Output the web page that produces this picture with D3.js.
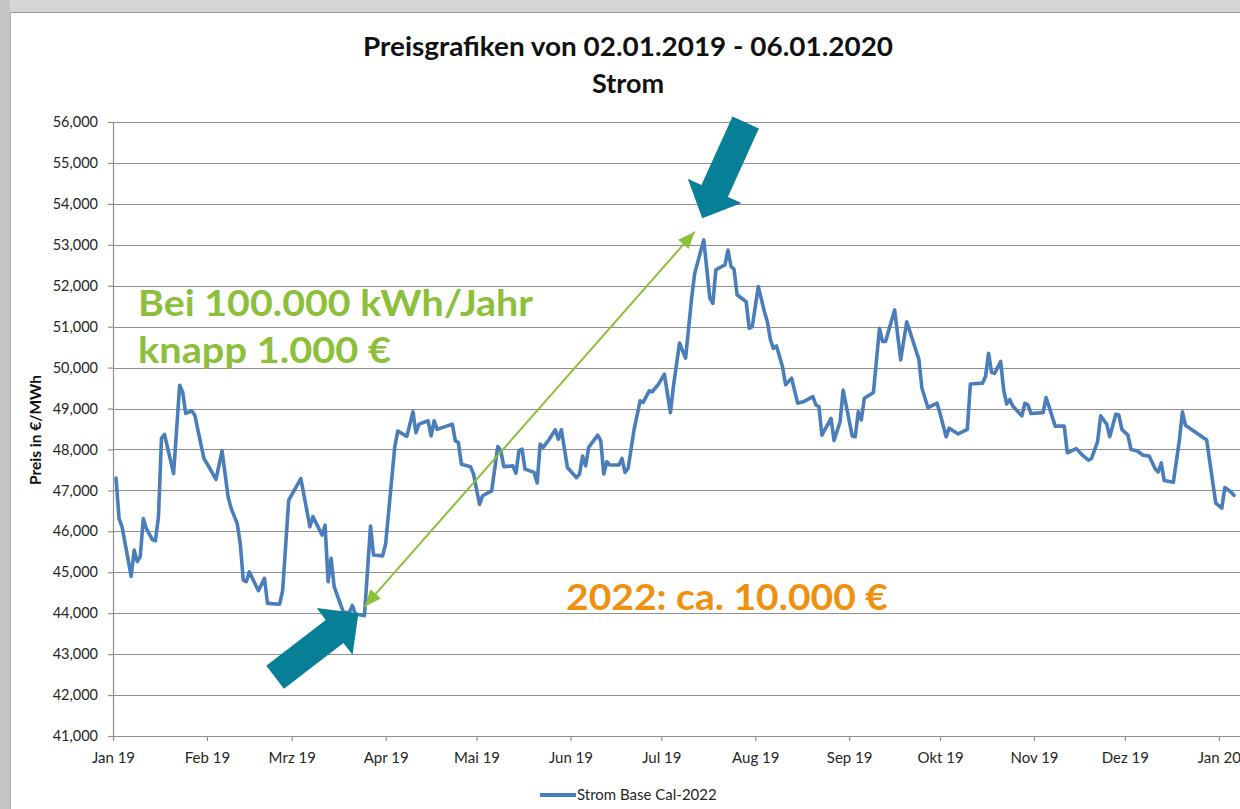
<!DOCTYPE html>
<html><head><meta charset="utf-8">
<script src="https://cdn.jsdelivr.net/npm/d3@7"></script>
<style>html,body{margin:0;padding:0;background:#fff;overflow:hidden}</style>
</head><body><svg id="c" width="1240" height="809"></svg>
<script>
// ---------------- data ----------------
const dates = [
"2019-01-02","2019-01-03","2019-01-04","2019-01-07","2019-01-08","2019-01-09","2019-01-10","2019-01-11","2019-01-12","2019-01-14",
"2019-01-15","2019-01-16","2019-01-17","2019-01-18","2019-01-21","2019-01-23","2019-01-24","2019-01-25","2019-01-27","2019-01-28",
"2019-01-31","2019-02-01","2019-02-04","2019-02-06","2019-02-08","2019-02-09","2019-02-11","2019-02-12","2019-02-13","2019-02-14",
"2019-02-15","2019-02-18","2019-02-20","2019-02-21","2019-02-25","2019-02-26","2019-02-28","2019-03-04","2019-03-07","2019-03-08",
"2019-03-11","2019-03-12","2019-03-13","2019-03-14","2019-03-15","2019-03-18","2019-03-20","2019-03-21","2019-03-22","2019-03-25",
"2019-03-27","2019-03-28","2019-03-31","2019-04-01","2019-04-04","2019-04-05","2019-04-08","2019-04-10","2019-04-11","2019-04-12",
"2019-04-15","2019-04-16","2019-04-17","2019-04-18","2019-04-23","2019-04-24","2019-04-25","2019-04-26","2019-04-29","2019-04-30",
"2019-05-02","2019-05-03","2019-05-06","2019-05-08","2019-05-09","2019-05-10","2019-05-13","2019-05-14","2019-05-15","2019-05-16",
"2019-05-17","2019-05-20","2019-05-21","2019-05-22","2019-05-23","2019-05-25","2019-05-27","2019-05-28","2019-05-29","2019-05-31",
"2019-06-03","2019-06-04","2019-06-05","2019-06-06","2019-06-07","2019-06-10","2019-06-11","2019-06-12","2019-06-13","2019-06-14",
"2019-06-17","2019-06-18","2019-06-19","2019-06-20","2019-06-22","2019-06-24","2019-06-25","2019-06-27","2019-06-28","2019-06-30",
"2019-07-02","2019-07-04","2019-07-05","2019-07-07","2019-07-09","2019-07-11","2019-07-12","2019-07-15","2019-07-17","2019-07-18",
"2019-07-19","2019-07-22","2019-07-23","2019-07-24","2019-07-25","2019-07-26","2019-07-29","2019-07-30","2019-07-31","2019-08-02",
"2019-08-04","2019-08-05","2019-08-06","2019-08-07","2019-08-08","2019-08-10","2019-08-11","2019-08-13","2019-08-15","2019-08-17",
"2019-08-20","2019-08-21","2019-08-22","2019-08-23","2019-08-26","2019-08-27","2019-08-29","2019-08-30","2019-09-02","2019-09-03",
"2019-09-04","2019-09-05","2019-09-06","2019-09-09","2019-09-11","2019-09-12","2019-09-13","2019-09-16","2019-09-18","2019-09-20",
"2019-09-24","2019-09-25","2019-09-27","2019-09-30","2019-10-01","2019-10-03","2019-10-04","2019-10-07","2019-10-10","2019-10-11",
"2019-10-15","2019-10-16","2019-10-17","2019-10-18","2019-10-19","2019-10-21","2019-10-22","2019-10-23","2019-10-24","2019-10-25",
"2019-10-28","2019-10-29","2019-10-30","2019-10-31","2019-11-04","2019-11-05","2019-11-06","2019-11-08","2019-11-11","2019-11-12",
"2019-11-15","2019-11-17","2019-11-19","2019-11-20","2019-11-22","2019-11-23","2019-11-25","2019-11-26","2019-11-28","2019-11-29",
"2019-11-30","2019-12-02","2019-12-03","2019-12-05","2019-12-07","2019-12-09","2019-12-11","2019-12-12","2019-12-13","2019-12-14",
"2019-12-17","2019-12-19","2019-12-20","2019-12-21","2019-12-28","2019-12-31","2020-01-02","2020-01-03","2020-01-05","2020-01-06"
];
const values = [
47300,46310,46110,44900,45540,45260,45380,46310,46070,45800,
45770,46350,48270,48370,47410,49570,49400,48880,48940,48840,
47780,47660,47270,47970,46840,46560,46190,45700,44810,44770,
45010,44550,44850,44240,44220,44560,46760,47290,46110,46360,
45910,46150,44770,45340,44650,44030,44010,44190,43980,43940,
46130,45420,45400,45700,48060,48450,48320,48920,48410,48620,
48700,48330,48700,48490,48620,48210,48170,47640,47580,47400,
46660,46870,46990,48070,47970,47580,47600,47420,47970,48010,
47520,47440,47180,48130,48050,48250,48480,48250,48480,47560,
47310,47400,47840,47600,48050,48350,48210,47400,47700,47620,
47620,47780,47440,47530,48490,49190,49150,49430,49410,49590,
49840,48900,49550,50600,50230,51700,52300,53120,51700,51570,
52390,52510,52870,52470,52400,51780,51610,50960,51000,51980,
51370,51120,50680,50470,50530,50020,49580,49740,49130,49170,
49290,49090,49050,48350,48760,48220,48680,49450,48330,48310,
48920,48720,49250,49390,50960,50640,50640,51410,50190,51120,
50200,49500,49020,49130,48880,48310,48520,48380,48490,49600,
49620,49780,50350,49880,49860,50150,49450,49110,49220,49060,
48820,49130,49090,48880,48900,49270,49040,48570,48570,47920,
48020,47860,47740,47780,48190,48820,48620,48310,48860,48840,
48490,48350,48000,47970,47860,47840,47530,47450,47670,47240,
47200,48230,48920,48590,48230,46690,46570,47070,46960,46880
];
const seriesName = "Strom Base Cal-2022";
const yTickValues = [41000,42000,43000,44000,45000,46000,47000,48000,49000,50000,51000,52000,53000,54000,55000,56000];
const monthTickDates = ["2019-01-01","2019-02-01","2019-03-01","2019-04-01","2019-05-01","2019-06-01","2019-07-01","2019-08-01","2019-09-01","2019-10-01","2019-11-01","2019-12-01","2020-01-01"];
const monthTickLabels = ["Jan 19","Feb 19","Mrz 19","Apr 19","Mai 19","Jun 19","Jul 19","Aug 19","Sep 19","Okt 19","Nov 19","Dez 19","Jan 20"];
const titleLines = ["Preisgrafiken von 02.01.2019 - 06.01.2020","Strom"];
const yAxisTitle = "Preis in €/MWh";
const noteGreen = ["Bei 100.000 kWh/Jahr","knapp 1.000 €"];
const noteOrange = "2022: ca. 10.000 €";
// annotation anchors (data space)
const rangeArrowEnds = [["2019-03-25",44160],["2019-07-12",53320]];
const tealArrowTips = [["2019-07-14T12:00:00Z",53650],["2019-03-23",44000]];

// ---------------- layout ----------------
const W = 1240, H = 809;
const plot = {left:113, top:122, bottom:736, right:1240};
const FONT = "Lato, Carlito, 'Open Sans', sans-serif";
const BLUE = "#4a7ebb", GREEN = "#8cbf3a", ORANGE = "#f0900f", TEAL = "#067f97";

const svg = d3.select("#c");
svg.append("rect").attr("width",W).attr("height",H).attr("fill","#fff");
// window frame
svg.append("rect").attr("x",0).attr("y",0).attr("width",W).attr("height",12).attr("fill","#d6d6d6");
svg.append("rect").attr("x",0).attr("y",0).attr("width",10).attr("height",H).attr("fill","#c4c4c4");
svg.append("line").attr("x1",10).attr("x2",W).attr("y1",12.5).attr("y2",12.5).attr("stroke","#9e9e9e").attr("stroke-width",1);
svg.append("line").attr("x1",10.5).attr("x2",10.5).attr("y1",12).attr("y2",H).attr("stroke","#b0b0b0").attr("stroke-width",1);

const parse = s => new Date(s.length === 10 ? s + "T00:00:00Z" : s);
const data = dates.map((d,i)=>({date:parse(d), value:values[i]}));

const x = d3.scaleUtc().domain([parse("2019-01-01"), parse("2020-01-08")]).range([plot.left, plot.right]);
const y = d3.scaleLinear().domain([41000,56000]).range([plot.bottom, plot.top]);

// gridlines
svg.append("g").selectAll("line").data(yTickValues.slice(1)).join("line")
  .attr("x1",plot.left).attr("x2",plot.right)
  .attr("y1",d=>Math.round(y(d))+0.5).attr("y2",d=>Math.round(y(d))+0.5)
  .attr("stroke","#8f8f8f").attr("stroke-width",1.2);

// y axis
const yAxis = svg.append("g").attr("transform",`translate(${plot.left},0)`)
  .call(d3.axisLeft(y).tickValues(yTickValues).tickFormat(d3.format(",")).tickSize(5).tickPadding(10));
yAxis.select(".domain").remove();
yAxis.selectAll(".tick line").attr("stroke","#8f8f8f").attr("stroke-width",1.2);
yAxis.selectAll("text").attr("font-family",FONT).attr("font-size","14.5px").attr("fill","#262626");
svg.append("line").attr("x1",plot.left+0.5).attr("x2",plot.left+0.5).attr("y1",plot.top).attr("y2",plot.bottom)
  .attr("stroke","#8f8f8f").attr("stroke-width",1.2);

// x axis
const xAxis = svg.append("g").attr("transform",`translate(0,${plot.bottom})`)
  .call(d3.axisBottom(x).tickValues(monthTickDates.map(parse)).tickFormat((d,i)=>monthTickLabels[i]).tickSize(5).tickPadding(11));
xAxis.select(".domain").remove();
xAxis.selectAll(".tick line").attr("stroke","#8f8f8f").attr("stroke-width",1.2);
xAxis.selectAll("text").attr("font-family",FONT).attr("font-size","15px").attr("fill","#262626");
svg.append("line").attr("x1",plot.left-5).attr("x2",plot.right).attr("y1",plot.bottom+0.5).attr("y2",plot.bottom+0.5)
  .attr("stroke","#8f8f8f").attr("stroke-width",1.2);

// series line
svg.append("path").datum(data)
  .attr("d", d3.line().x(d=>x(d.date)).y(d=>y(d.value)))
  .attr("fill","none").attr("stroke",BLUE).attr("stroke-width",3.6)
  .attr("stroke-linejoin","round").attr("stroke-linecap","round");

// titles
svg.append("text").attr("x",628).attr("y",56).attr("text-anchor","middle")
  .attr("font-family",FONT).attr("font-weight","bold").attr("font-size","27px").attr("fill","#111")
  .attr("textLength",530).attr("lengthAdjust","spacingAndGlyphs").text(titleLines[0]);
svg.append("text").attr("x",628).attr("y",93).attr("text-anchor","middle")
  .attr("font-family",FONT).attr("font-weight","bold").attr("font-size","27px").attr("fill","#111")
  .text(titleLines[1]);

// y axis title
svg.append("text").attr("transform","translate(41,430) rotate(-90)").attr("text-anchor","middle")
  .attr("font-family",FONT).attr("font-weight","bold").attr("font-size","15.5px").attr("fill","#111")
  .text(yAxisTitle);

// legend
svg.append("line").attr("x1",540).attr("x2",576).attr("y1",795).attr("y2",795).attr("stroke",BLUE).attr("stroke-width",4);
svg.append("text").attr("x",577).attr("y",800).attr("font-family",FONT).attr("font-size","15px").attr("fill","#262626").text(seriesName);

// green double arrow
const [a0,a1] = rangeArrowEnds.map(([d,v])=>[x(parse(d)), y(v)]);
svg.append("line").attr("x1",a0[0]).attr("y1",a0[1]).attr("x2",a1[0]).attr("y2",a1[1])
  .attr("stroke",GREEN).attr("stroke-width",2);
function head(tip, from, len, hw){
  const dx = from[0]-tip[0], dy = from[1]-tip[1], L = Math.hypot(dx,dy);
  const ux = dx/L, uy = dy/L, px = -uy, py = ux;
  const bx = tip[0]+ux*len, by = tip[1]+uy*len;
  return [[tip[0],tip[1]],[bx+px*hw,by+py*hw],[bx-px*hw,by-py*hw]];
}
[[a0,a1],[a1,a0]].forEach(([t,f])=>{
  svg.append("polygon").attr("points",head(t,f,17,7).map(p=>p.join(",")).join(" ")).attr("fill",GREEN);
});

// teal block arrows
const tealDirs = [[43.3,-95.3],[-82.7,63.5]];
tealArrowTips.forEach(([d,v],i)=>{
  const tx = x(parse(d)), ty = y(v);
  const [dx,dy] = tealDirs[i]; const L = Math.hypot(dx,dy);
  const ux = dx/L, uy = dy/L, px = -uy, py = ux;
  const local = [[0,0],[30,29.5],[30,14.5],[105,14.5],[105,-14.5],[30,-14.5],[30,-29.5]];
  const pts = local.map(([a,b])=>[tx+ux*a+px*b, ty+uy*a+py*b]);
  svg.append("polygon").attr("points",pts.map(p=>p.join(",")).join(" ")).attr("fill",TEAL);
});

// annotation texts
svg.append("text").attr("x",138).attr("y",316).attr("font-family",FONT).attr("font-weight","bold")
  .attr("font-size","37px").attr("fill",GREEN).attr("textLength",395).attr("lengthAdjust","spacingAndGlyphs").text(noteGreen[0]);
svg.append("text").attr("x",138).attr("y",363).attr("font-family",FONT).attr("font-weight","bold")
  .attr("font-size","37px").attr("fill",GREEN).attr("textLength",253).attr("lengthAdjust","spacingAndGlyphs").text(noteGreen[1]);
svg.append("text").attr("x",566).attr("y",610).attr("font-family",FONT).attr("font-weight","bold")
  .attr("font-size","37px").attr("fill",ORANGE).attr("textLength",322).attr("lengthAdjust","spacingAndGlyphs").text(noteOrange);
</script></body></html>
